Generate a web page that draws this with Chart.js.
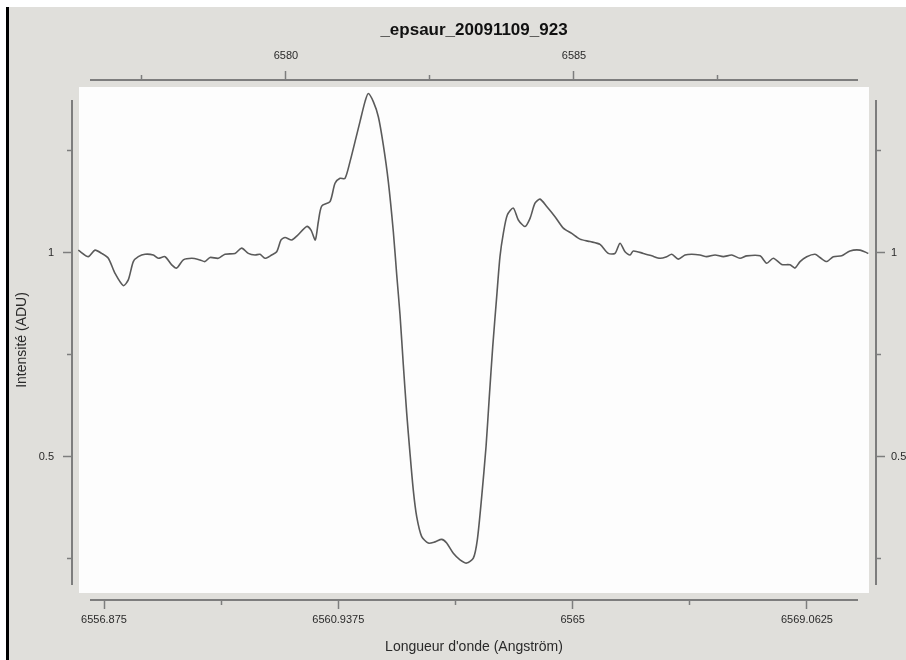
<!DOCTYPE html>
<html>
<head>
<meta charset="utf-8">
<title>_epsaur_20091109_923</title>
<script src="https://cdn.jsdelivr.net/npm/chart.js@4.4.1/dist/chart.umd.min.js"></script>
<style>
  html, body { margin: 0; padding: 0; background: #ffffff; }
  #wrap { width: 906px; height: 660px; }
</style>
</head>
<body>
<div id="wrap"><canvas id="spectrum" width="906" height="660"></canvas></div>
<script>
// spectrum (wavelength in Angstrom, intensity in ADU)
const wavelength = [
  6556.429, 6556.603, 6556.719, 6556.835, 6556.950, 6557.066, 6557.210, 6557.296, 6557.383, 6557.470,
  6557.586, 6557.730, 6557.816, 6557.933, 6558.049, 6558.135, 6558.250, 6558.396, 6558.539, 6558.626,
  6558.713, 6558.857, 6558.973, 6559.146, 6559.262, 6559.377, 6559.493, 6559.580, 6559.666, 6559.782,
  6559.869, 6559.944, 6560.013, 6560.129, 6560.221, 6560.389, 6560.464, 6560.538, 6560.590, 6560.649,
  6560.793, 6560.880, 6560.967, 6561.053, 6561.140, 6561.227, 6561.313, 6561.400, 6561.457, 6561.544,
  6561.631, 6561.717, 6561.804, 6561.891, 6561.950, 6562.007, 6562.064, 6562.123, 6562.180, 6562.237,
  6562.296, 6562.383, 6562.497, 6562.614, 6562.730, 6562.816, 6562.931, 6563.047, 6563.163, 6563.278,
  6563.347, 6563.423, 6563.498, 6563.555, 6563.614, 6563.683, 6563.740, 6563.798, 6563.867, 6563.971,
  6564.058, 6564.174, 6564.261, 6564.347, 6564.434, 6564.550, 6564.694, 6564.838, 6564.984, 6565.127,
  6565.301, 6565.474, 6565.618, 6565.734, 6565.821, 6565.908, 6565.994, 6566.051, 6566.225, 6566.371,
  6566.514, 6566.631, 6566.717, 6566.832, 6566.948, 6567.064, 6567.208, 6567.324, 6567.468, 6567.612,
  6567.758, 6567.901, 6568.018, 6568.248, 6568.364, 6568.479, 6568.624, 6568.768, 6568.855, 6568.942,
  6569.058, 6569.202, 6569.288, 6569.405, 6569.519, 6569.665, 6569.808, 6569.982, 6570.126
];
const intensity = [
  1.007, 0.991, 1.007, 0.999, 0.987, 0.950, 0.920, 0.934, 0.979, 0.991,
  0.997, 0.995, 0.987, 0.991, 0.971, 0.963, 0.983, 0.987, 0.983, 0.979,
  0.989, 0.987, 0.997, 0.999, 1.012, 0.999, 0.995, 0.997, 0.987, 0.995,
  1.003, 1.032, 1.038, 1.032, 1.042, 1.065, 1.056, 1.032, 1.076, 1.115,
  1.126, 1.171, 1.183, 1.183, 1.224, 1.273, 1.322, 1.371, 1.391, 1.371,
  1.334, 1.265, 1.175, 1.052, 0.946, 0.848, 0.726, 0.607, 0.509, 0.419,
  0.354, 0.305, 0.289, 0.292, 0.298, 0.289, 0.264, 0.248, 0.240, 0.252,
  0.297, 0.403, 0.525, 0.648, 0.770, 0.893, 0.991, 1.048, 1.093, 1.110,
  1.081, 1.065, 1.085, 1.122, 1.132, 1.114, 1.089, 1.061, 1.048, 1.034,
  1.028, 1.021, 0.999, 0.999, 1.024, 1.003, 0.995, 1.005, 0.999, 0.993,
  0.987, 0.991, 0.997, 0.985, 0.995, 0.997, 0.995, 0.991, 0.995, 0.991,
  0.995, 0.987, 0.993, 0.993, 0.975, 0.987, 0.972, 0.971, 0.963, 0.979,
  0.991, 0.997, 0.989, 0.979, 0.991, 0.993, 1.005, 1.007, 0.999
];

// bottom axis (Angstrom)
const bottomTicks = [6556.875, 6558.90625, 6560.9375, 6562.96875, 6565, 6567.03125, 6569.0625];
const bottomLabels = ['6556.875', '', '6560.9375', '', '6565', '', '6569.0625'];
// top axis
const topTicks = [6577.5, 6580, 6582.5, 6585, 6587.5];
const topLabels = ['', '6580', '', '6585', ''];
// intensity axes (left and right)
const yTicks = [0.25, 0.5, 0.75, 1, 1.25];
const yLabels = ['', '0.5', '', '1', ''];

const chartTitle = '_epsaur_20091109_923';
const xTitle = "Longueur d'onde (Angström)";
const yTitle = 'Intensité (ADU)';

const FONT = "'Liberation Sans', Arial, sans-serif";
const AXIS_GRAY = '#7d7d7d';
const TEXT = '#2a2a2a';

// minor ticks are drawn shorter: a dash pattern cuts the tick line
function minorDash(labels) {
  return ctx => (labels[ctx.index] === '' ? [5, 30] : []);
}
// ticks of top/left axes start from the outer end, so shift the pattern
function minorOffset(labels) {
  return ctx => (labels[ctx.index] === '' ? 31 : 0);
}

function makeAxis(position, ticksList, labels, size, extra) {
  let horizontal = position === 'top' || position === 'bottom';
  return Object.assign({
    type: 'linear',
    position: position,
    border: { display: false },
    grid: {
      drawOnChartArea: false,
      drawTicks: true,
      tickLength: 9,
      tickColor: AXIS_GRAY,
      tickWidth: 1.5,
      tickBorderDash: minorDash(labels),
      tickBorderDashOffset: (position === 'top' || position === 'left') ? minorOffset(labels) : 0
    },
    ticks: {
      autoSkip: false,
      maxRotation: 0,
      color: TEXT,
      font: { family: FONT, size: 11 },
      callback: (value, index) => labels[index]
    },
    afterBuildTicks: scale => {
      scale.ticks = ticksList.map(v => ({ value: v }));
    },
    afterFit: scale => {
      if (horizontal) {
        scale.height = size;
      } else {
        scale.width = size;
      }
    }
  }, extra);
}

const scaleX = makeAxis('bottom', bottomTicks, bottomLabels, 60, {
  min: 6556.320, max: 6570.259,
  title: { display: true, text: xTitle, color: TEXT, font: { family: FONT, size: 14 }, padding: { top: 0, bottom: 4 } }
});
scaleX.ticks.padding = 4;

const scaleX2 = makeAxis('top', topTicks, topLabels, 80, {
  min: 6576.285, max: 6590.243,
  title: { display: true, text: chartTitle, color: '#111', font: { family: FONT, size: 17, weight: 'bold' }, padding: { top: 20, bottom: 0 } }
});
scaleX2.ticks.padding = 8;

const scaleY = makeAxis('left', yTicks, yLabels, 72, {
  min: 0.1495, max: 1.424,
  title: { display: true, text: yTitle, color: TEXT, font: { family: FONT, size: 14 }, padding: { top: 14, bottom: 0 } }
});
scaleY.ticks.padding = 9;

const scaleY2 = makeAxis('right', yTicks, yLabels, 30, {
  min: 0.1495, max: 1.424
});
scaleY2.ticks.padding = 6;

// page background, left black rule, white plot panel
const panelPlugin = {
  id: 'panel',
  beforeDraw(chart) {
    let c = chart.ctx;
    let a = chart.chartArea;
    c.save();
    c.fillStyle = '#ffffff';
    c.fillRect(0, 0, chart.width, chart.height);
    c.fillStyle = '#e0dfdb';
    c.fillRect(9, 7, chart.width - 9, chart.height - 7);
    c.fillStyle = '#000000';
    c.fillRect(6, 7, 3, chart.height - 7);
    c.fillStyle = '#fdfdfd';
    c.fillRect(a.left + 7, a.top + 7, a.right - a.left - 14, a.bottom - a.top - 14);
    c.restore();
  },
  // the axis rules stop short of the corners
  afterDraw(chart) {
    let c = chart.ctx;
    let a = chart.chartArea;
    c.save();
    c.strokeStyle = AXIS_GRAY;
    c.lineWidth = 2;
    c.beginPath();
    c.moveTo(a.left + 18, a.top); c.lineTo(a.right - 18, a.top);
    c.moveTo(a.left + 18, a.bottom); c.lineTo(a.right - 18, a.bottom);
    c.moveTo(a.left, a.top + 20); c.lineTo(a.left, a.bottom - 15);
    c.moveTo(a.right, a.top + 20); c.lineTo(a.right, a.bottom - 15);
    c.stroke();
    c.restore();
  }
};

new Chart(document.getElementById('spectrum'), {
  type: 'line',
  data: {
    datasets: [{
      data: wavelength.map((w, i) => ({ x: w, y: intensity[i] })),
      borderColor: '#5a5a5a',
      borderWidth: 1.6,
      pointRadius: 0,
      tension: 0.25,
      fill: false,
      xAxisID: 'x',
      yAxisID: 'y'
    }]
  },
  options: {
    responsive: false,
    animation: false,
    devicePixelRatio: 1,
    layout: { padding: 0 },
    plugins: {
      legend: { display: false },
      tooltip: { enabled: false }
    },
    scales: {
      x: scaleX,
      x2: scaleX2,
      y: scaleY,
      y2: scaleY2
    }
  },
  plugins: [panelPlugin]
});
</script>
</body>
</html>
